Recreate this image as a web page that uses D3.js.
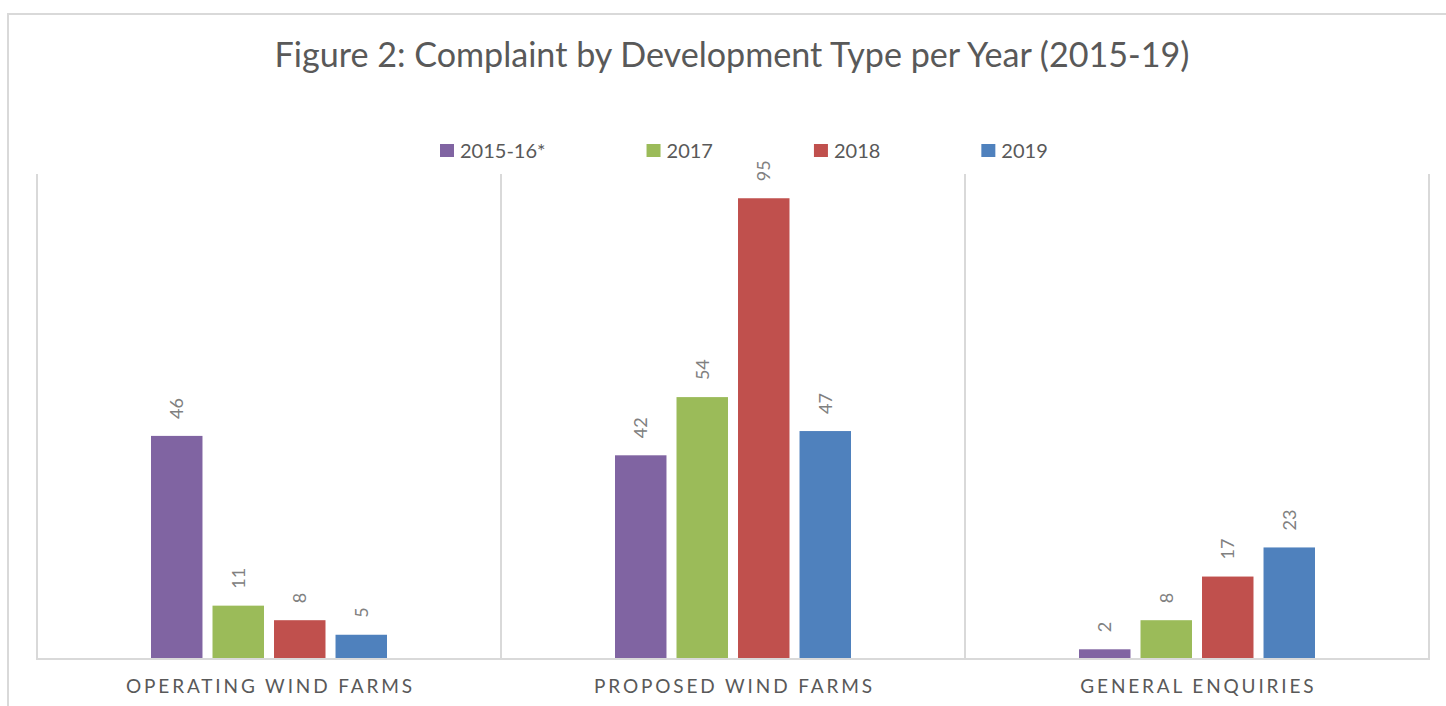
<!DOCTYPE html>
<html>
<head>
<meta charset="utf-8">
<script src="https://cdn.jsdelivr.net/npm/d3@7"></script>
<style>
  body { margin: 0; background: #fff; }
  svg { display: block; font-family: Lato, "Open Sans", sans-serif; }
</style>
</head>
<body>
<div id="chart"></div>
<script>
const categories = ["OPERATING WIND FARMS", "PROPOSED WIND FARMS", "GENERAL ENQUIRIES"];
const years = ["2015-16*", "2017", "2018", "2019"];
const colors = ["#8064a2", "#9bbb59", "#c0504d", "#4f81bd"];
const v2015 = [46, 42, 2];
const v2017 = [11, 54, 8];
const v2018 = [8, 95, 17];
const v2019 = [5, 47, 23];
const seriesValues = [v2015, v2017, v2018, v2019];

const width = 1446, height = 706;
const plot = { left: 37, right: 1429, top: 174, bottom: 659 };

const svg = d3.select("#chart").append("svg")
    .attr("width", width)
    .attr("height", height);

// outer chart border
svg.append("rect")
   .attr("x", 8).attr("y", 14)
   .attr("width", width + 20).attr("height", height + 20)
   .attr("fill", "none")
   .attr("stroke", "#d9d9d9")
   .attr("stroke-width", 2);

// title, sized to fit
const title = svg.append("text")
   .attr("x", 732).attr("y", 67)
   .attr("text-anchor", "middle")
   .attr("fill", "#595959")
   .style("font-size", "32px")
   .text("Figure 2: Complaint by Development Type per Year (2015-19)");
const tw = title.node().getComputedTextLength();
title.style("font-size", `${32 * 915 / tw}px`);

const x0 = d3.scaleBand().domain(categories).range([plot.left, plot.right]);
const x1 = d3.scaleBand().domain(years).range([-118, 118]).paddingInner(0.163);
const y = d3.scaleLinear().domain([0, 100]).range([plot.bottom, plot.top]);

// separators between categories
const edges = [plot.left, ...categories.map(c => x0(c) + x0.bandwidth())];
svg.append("g").selectAll("line")
   .data(edges)
   .join("line")
   .attr("x1", d => d).attr("x2", d => d)
   .attr("y1", plot.top).attr("y2", plot.bottom)
   .attr("stroke", "#d9d9d9")
   .attr("stroke-width", 2);

// baseline
svg.append("line")
   .attr("x1", plot.left - 1).attr("x2", plot.right + 1)
   .attr("y1", y(0)).attr("y2", y(0))
   .attr("stroke", "#d9d9d9")
   .attr("stroke-width", 2);

// bars
const groups = svg.append("g").selectAll("g")
   .data(categories)
   .join("g")
   .attr("transform", d => `translate(${x0(d) + x0.bandwidth() / 2},0)`);

const cells = groups.selectAll("g")
   .data((c, i) => years.map((yr, j) => ({ yr, j, v: seriesValues[j][i] })))
   .join("g");

cells.append("rect")
   .attr("x", d => x1(d.yr))
   .attr("y", d => y(d.v))
   .attr("width", x1.bandwidth())
   .attr("height", d => y(0) - y(d.v) - 1)
   .attr("fill", d => colors[d.j]);

cells.append("text")
   .attr("transform", d => `translate(${x1(d.yr) + x1.bandwidth() / 2 + 6.5},${y(d.v) - 17}) rotate(-90)`)
   .attr("fill", "#808080")
   .style("font-size", "18px")
   .text(d => d.v);

// category labels, letter spacing set so the first one spans ~286px
const catText = svg.append("g").selectAll("text")
   .data(categories)
   .join("text")
   .attr("x", d => x0(d) + x0.bandwidth() / 2)
   .attr("y", 693)
   .attr("text-anchor", "middle")
   .attr("fill", "#595959")
   .style("font-size", "19px")
   .text(d => d);
const natural = catText.nodes()[0].getComputedTextLength();
const spacing = (286 - natural) / (categories[0].length - 1);
catText.style("letter-spacing", `${spacing}px`)
       .attr("dx", spacing / 2);

// legend
const legend = svg.append("g").attr("transform", "translate(440,0)");
let lx = 0;
years.forEach((yr, j) => {
    const g = legend.append("g").attr("transform", `translate(${lx},0)`);
    g.append("rect")
     .attr("x", 0).attr("y", 144)
     .attr("width", 14).attr("height", 13)
     .attr("fill", colors[j]);
    const t = g.append("text")
     .attr("x", 20).attr("y", 158)
     .attr("fill", "#595959")
     .style("font-size", "20px")
     .text(yr);
    lx += 20 + t.node().getComputedTextLength() + 101;
});
</script>
</body>
</html>
